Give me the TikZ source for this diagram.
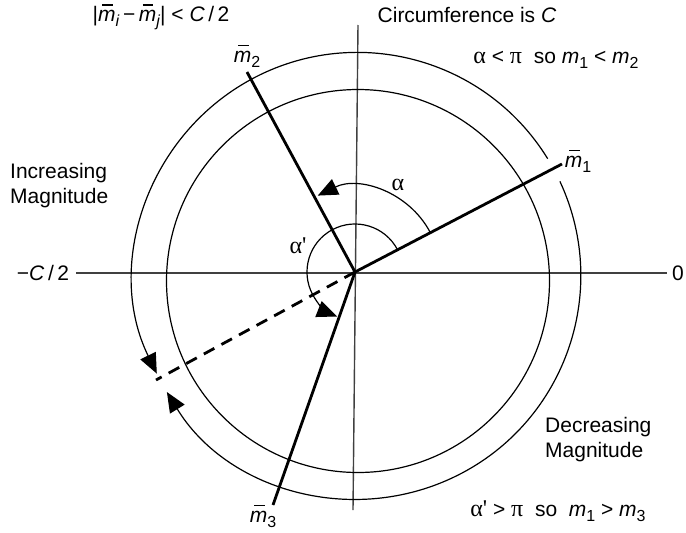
\documentclass[tikz,border=0pt]{standalone}
\usepackage{fontspec}
\setmainfont{Liberation Sans}
\newfontfamily\grk{Liberation Serif}
\usetikzlibrary{arrows.meta}
\newcommand\mbar{\leavevmode\rlap{\hspace{0.2em}\rule[0.76em]{0.5em}{0.09em}}\textit{m}}
\newcommand\sbs[1]{\raisebox{-5pt}{\fontsize{16}{16}\selectfont #1}}
\newcommand\gk[1]{{\grk\fontsize{24}{25}\selectfont #1}}
\begin{document}
\begin{tikzpicture}[x=1pt,y=-1pt,
  font=\fontsize{21}{25}\selectfont,
  axisline/.style={draw=black!75, line width=1.4pt},
  circ/.style={draw=black, line width=1.2pt},
  ray/.style={draw=black, line width=2.8pt},
  dray/.style={ray, dash pattern=on 12pt off 8pt},
  arr/.style={-{Triangle[length=20pt,width=17pt]}},
  lbl/.style={inner sep=0pt}]
\useasboundingbox (0,0) rectangle (686,533);
% centres
\coordinate (O) at (355,272);
\coordinate (Ci) at (358,281);
\coordinate (Co) at (357.5,275.7);
% axes
\coordinate (axL) at (76,273);
\coordinate (axR) at (667,273);
\coordinate (axT) at (358,25);
\coordinate (axB) at (353,510);
\draw[axisline] (axL) -- (axR);
\draw[axisline] (axT) -- (axB);
% circles
\draw[circ] (Ci) circle[radius=191.5];
\draw[circ, arr] ([shift={(-31.6:223.3)}]Co) arc[start angle=-31.6, end angle=-206, radius=223.3];
\draw[circ, arr] ([shift={(-25:223.3)}]Co) arc[start angle=-25, end angle=148.6, radius=223.3];
% rays
\coordinate (e1) at (562,164);
\coordinate (e2) at (247,72);
\coordinate (e3) at (273,505);
\coordinate (ed) at (156,380);
\draw[ray] (O) -- (e1);
\draw[ray] (O) -- (e2);
\draw[ray] (O) -- (e3);
\draw[dray] (O) -- (ed);
% angle arcs
\draw[circ, arr] ([shift={(-28:85)}]O) arc[start angle=-28, end angle=-116, radius=85];
\draw[circ, arr] ([shift={(-28:48)}]O) arc[start angle=-28, end angle=-248, radius=48];
% labels
\node[lbl] (diff) at (161,17) {|\mbar\sbs{\textit{i}}\,−\,\mbar\sbs{\textit{j}}| < \textit{C}\,/\,2};
\node[lbl] (circum) at (467,15) {Circumference is \textit{C}};
\node[lbl] (cond1) at (556,60) {\gk{α} < \gk{π}\ \ so \textit{m}\sbs{1} < \textit{m}\sbs{2}};
\node[lbl] (m2) at (247,56) {\mbar\sbs{2}};
\node[lbl] (m1) at (578,161) {\mbar\sbs{1}};
\node[lbl] (zero) at (678,273) {0};
\node[lbl] (negc) at (43,273) {−\textit{C}\,/\,2};
\node[lbl, anchor=west, align=left] (inc) at (10,186) {Increasing\\Magnitude};
\node[lbl, anchor=west, align=left] (dec) at (545,440) {Decreasing\\Magnitude};
\node[lbl] (cond2) at (558,511) {\gk{α\textquotesingle} > \gk{π}\ \ so\ \ \textit{m}\sbs{1} > \textit{m}\sbs{3}};
\node[lbl] (m3) at (263,516) {\mbar\sbs{3}};
\node[lbl] (alab) at (398,185) {\gk{α}};
\node[lbl] (aplab) at (298,246) {\gk{α\textquotesingle}};
\end{tikzpicture}
\end{document}
